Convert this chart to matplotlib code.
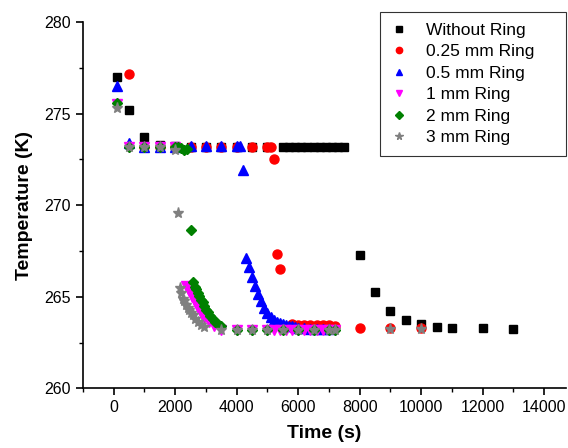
import numpy as np
import matplotlib.pyplot as plt
from matplotlib.ticker import MultipleLocator

plt.rcParams['font.family'] = ['Liberation Sans', 'DejaVu Sans']

# Without Ring
t_none = [100, 500, 1000, 1500, 2000, 2500, 3000, 3500, 4000, 4500, 5000,
          5500, 5700, 5900, 6100, 6300, 6500, 6700, 6900, 7100, 7300, 7500,
          8000, 8500, 9000, 9500, 10000, 10500, 11000, 12000, 13000]
T_none = [277.0, 275.2, 273.7, 273.3, 273.25, 273.2, 273.2, 273.2, 273.2, 273.2, 273.2,
          273.2, 273.2, 273.2, 273.2, 273.2, 273.2, 273.2, 273.2, 273.2, 273.2, 273.2,
          267.3, 265.25, 264.2, 263.75, 263.5, 263.35, 263.3, 263.3, 263.25]

# 0.25 mm Ring
t_025 = [500, 1000, 1500, 2000, 2500, 3000, 3500, 4000, 4500, 5000, 5100, 5200,
         5300, 5400, 5800, 6000, 6200, 6400, 6600, 6800, 7000, 7200,
         8000, 9000, 10000]
T_025 = [277.15, 273.2, 273.2, 273.2, 273.2, 273.2, 273.2, 273.2, 273.2, 273.2, 273.2, 272.5,
         267.35, 266.5, 263.5, 263.45, 263.45, 263.45, 263.45, 263.45, 263.45, 263.4,
         263.3, 263.3, 263.3]

# 0.5 mm Ring
t_05 = [100, 500, 1000, 1500, 2000, 2500, 3000, 3500, 4000, 4100, 4200,
        4300, 4400, 4500, 4600, 4700, 4800, 4900, 5000, 5100, 5200, 5300,
        5400, 5500, 5600, 5700, 5800, 5900, 6000, 6200, 6400, 6600, 6800, 7000]
T_05 = [276.5, 273.4, 273.2, 273.2, 273.2, 273.25, 273.25, 273.25, 273.25, 273.25, 271.9,
        267.1, 266.6, 266.1, 265.6, 265.15, 264.75, 264.4, 264.1, 263.9, 263.75, 263.65,
        263.55, 263.5, 263.45, 263.4, 263.38, 263.35, 263.3, 263.3, 263.25, 263.25, 263.25, 263.25]

# 1 mm Ring
t_1 = [100, 500, 1000, 1500, 2000, 2350, 2450, 2550, 2650, 2750, 2850, 2950,
       3100, 3250, 3500, 4000, 4500, 5000, 5200, 5400, 5600, 5800, 6000, 6200,
       6400, 6600, 6800, 7000, 7200]
T_1 = [275.5, 273.2, 273.2, 273.2, 273.15, 265.6, 265.3, 265.0, 264.7, 264.4, 264.1, 263.85,
       263.6, 263.4, 263.2, 263.2, 263.2, 263.2, 263.2, 263.2, 263.2, 263.2, 263.2, 263.2,
       263.2, 263.2, 263.2, 263.2, 263.2]

# 2 mm Ring
t_2 = [100, 500, 1000, 1500, 2000, 2100, 2200, 2300, 2400, 2500,
       2570, 2630, 2680, 2730, 2790, 2840, 2900, 2950, 3000, 3070, 3140, 3220,
       3300, 3400, 3500, 4000, 4500, 5000, 5500, 6000, 6500, 7000, 7200]
T_2 = [275.6, 273.2, 273.2, 273.2, 273.2, 273.15, 273.1, 273.0, 273.05, 268.65,
       265.8, 265.55, 265.4, 265.2, 265.05, 264.85, 264.7, 264.5, 264.3, 264.15, 263.97, 263.8,
       263.6, 263.5, 263.4, 263.2, 263.2, 263.2, 263.2, 263.2, 263.2, 263.2, 263.2]

# 3 mm Ring
t_3 = [100, 500, 1000, 1500, 2000, 2090, 2160, 2200, 2250, 2300, 2360, 2410,
       2460, 2520, 2570, 2650, 2730, 2840, 2950, 3500, 4000, 4500, 5000, 5500,
       6000, 6500, 7000, 7200, 9000, 10000]
T_3 = [275.3, 273.15, 273.15, 273.15, 273.0, 269.55, 265.5, 265.2, 264.9, 264.75, 264.55, 264.4,
       264.27, 264.1, 264.0, 263.8, 263.63, 263.45, 263.36, 263.2, 263.2, 263.2, 263.2, 263.2,
       263.2, 263.2, 263.2, 263.2, 263.25, 263.25]

fig = plt.figure(figsize=(5.68, 4.48), dpi=100)
ax = fig.add_axes([0.146, 0.133, 0.85, 0.818])

ax.plot(t_none, T_none, 's', color='black', ms=5.5, label='Without Ring')
ax.plot(t_025, T_025, 'o', color='red', ms=6.5, label='0.25 mm Ring')
ax.plot(t_05, T_05, '^', color='blue', ms=7, label='0.5 mm Ring')
ax.plot(t_1, T_1, 'v', color='magenta', ms=7, label='1 mm Ring')
ax.plot(t_2, T_2, 'D', color='green', ms=5.5, label='2 mm Ring')
ax.plot(t_3, T_3, '*', color='gray', ms=8, label='3 mm Ring')

ax.set_xlim(-1000, 14700)
ax.set_ylim(260, 280)
ax.xaxis.set_major_locator(MultipleLocator(2000))
ax.xaxis.set_minor_locator(MultipleLocator(1000))
ax.yaxis.set_major_locator(MultipleLocator(5))
ax.yaxis.set_minor_locator(MultipleLocator(2.5))
ax.tick_params(which='major', direction='out', length=5, width=1.2, labelsize=11.5)
ax.tick_params(which='minor', direction='out', length=3, width=1.0)
ax.spines['top'].set_visible(False)
ax.spines['right'].set_visible(False)
ax.spines['left'].set_linewidth(1.2)
ax.spines['bottom'].set_linewidth(1.2)

ax.set_xlabel('Time (s)', fontsize=14, fontweight='bold', labelpad=7)
ax.set_ylabel('Temperature (K)', fontsize=14, fontweight='bold', labelpad=8)

leg = ax.legend(loc='upper left', bbox_to_anchor=(0.615, 0.645, 0.385, 0.382),
                mode='expand', borderaxespad=0, fontsize=12.5,
                markerscale=0.7, frameon=True, fancybox=False, edgecolor='black',
                handlelength=1.0, handletextpad=1.05, borderpad=0.62, labelspacing=0.36)
leg.get_frame().set_linewidth(0.8)

fig.savefig('out.png', dpi=100)
